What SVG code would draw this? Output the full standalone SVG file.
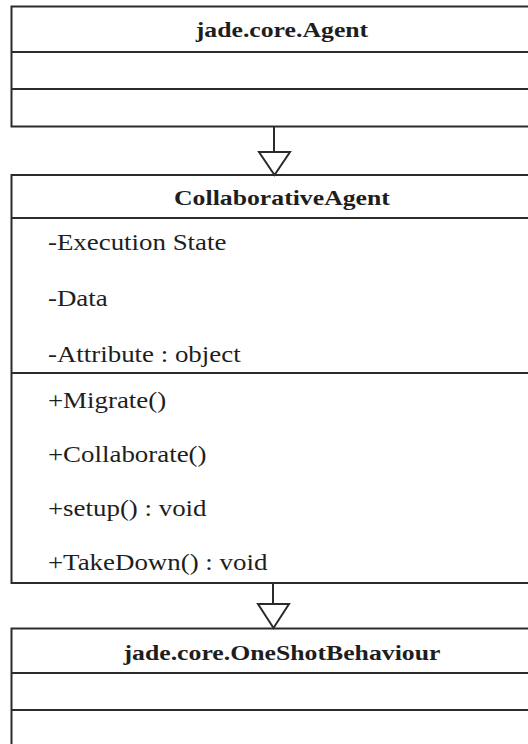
<svg xmlns="http://www.w3.org/2000/svg" width="528" height="744" viewBox="0 0 528 744">
  <style>
    .box { fill: #ffffff; stroke: #2b2b2b; stroke-width: 2; }
    .sep { stroke: #2b2b2b; stroke-width: 2; }
    .title { font-family: "Liberation Serif", "Times New Roman", serif; font-size: 22px; font-weight: bold; fill: #1e1e1e; text-anchor: middle; }
    .member { font-family: "Liberation Serif", "Times New Roman", serif; font-size: 23px; fill: #1e1e1e; }
    .edge { stroke: #2b2b2b; stroke-width: 2; fill: none; }
    .head { stroke: #2b2b2b; stroke-width: 2; fill: #ffffff; stroke-linejoin: miter; }
  </style>
  <rect width="528" height="744" fill="#ffffff"/>

  <!-- class jade.core.Agent -->
  <g id="agent">
    <rect class="box" x="11.5" y="6.5" width="540" height="120"/>
    <line class="sep" x1="11.5" y1="52" x2="540" y2="52"/>
    <line class="sep" x1="11.5" y1="89" x2="540" y2="89"/>
    <g transform="scale(1.17 1)">
      <text class="title" x="241" y="37">jade.core.Agent</text>
    </g>
  </g>

  <!-- class CollaborativeAgent -->
  <g id="collaborative-agent">
    <rect class="box" x="11.5" y="175" width="540" height="408"/>
    <line class="sep" x1="11.5" y1="218" x2="540" y2="218"/>
    <line class="sep" x1="11.5" y1="373" x2="540" y2="373"/>
    <g transform="scale(1.17 1)">
      <text class="title" x="241" y="205">CollaborativeAgent</text>
      <text class="member" x="41" y="250">-Execution State</text>
      <text class="member" x="41" y="306">-Data</text>
      <text class="member" x="41" y="362">-Attribute : object</text>
      <text class="member" x="41" y="408">+Migrate()</text>
      <text class="member" x="41" y="462">+Collaborate()</text>
      <text class="member" x="41" y="516">+setup() : void</text>
      <text class="member" x="41" y="570">+TakeDown() : void</text>
    </g>
  </g>

  <!-- class jade.core.OneShotBehaviour -->
  <g id="one-shot-behaviour">
    <rect class="box" x="11.5" y="628.5" width="540" height="140"/>
    <line class="sep" x1="11.5" y1="673" x2="540" y2="673"/>
    <line class="sep" x1="11.5" y1="710" x2="540" y2="710"/>
    <g transform="scale(1.17 1)">
      <text class="title" x="241" y="660">jade.core.OneShotBehaviour</text>
    </g>
  </g>

  <!-- generalization connectors (hollow triangle heads) -->
  <g id="connectors">
    <line class="edge" x1="274" y1="127" x2="274" y2="152"/>
    <polygon class="head" points="259,152 290,152 274.5,175"/>
    <line class="edge" x1="273" y1="583" x2="273" y2="604"/>
    <polygon class="head" points="258,604 289,604 273.5,628"/>
  </g>
</svg>
